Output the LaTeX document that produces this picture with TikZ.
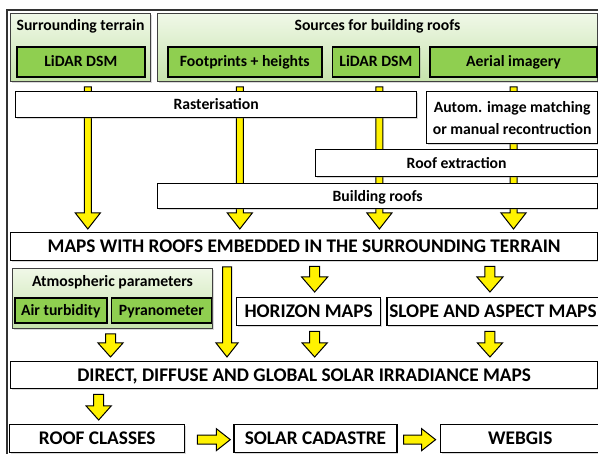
\documentclass[tikz,border=0pt]{standalone}
\usepackage{fontspec}
\setmainfont{Carlito}
\usetikzlibrary{positioning,calc,shadows,backgrounds}
\definecolor{leaf}{HTML}{8FCF50}
\definecolor{paleTop}{HTML}{F0F8E8}
\definecolor{paleBot}{HTML}{C6E3AB}

\begin{document}
\begin{tikzpicture}[x=1pt,y=-1pt,
    every node/.style={font=\bfseries\fontsize{15.7}{19}\selectfont,inner sep=0pt},
    shadowed/.style={drop shadow={shadow xshift=1.5pt,shadow yshift=-1.5pt,opacity=.3}},
    group/.style={draw=black!75,line width=1pt,top color=paleTop,bottom color=paleBot,anchor=north west,shadowed},
    source/.style={draw,line width=1.6pt,fill=leaf,anchor=north west,minimum height=30pt,text height=9.9pt,text depth=0pt,shadowed},
    box/.style={draw,line width=1.3pt,fill=white,anchor=north west,shadowed},
    stage/.style={box,text height=9.9pt,text depth=0pt},
    product/.style={stage,font=\bfseries\fontsize{19.3}{22}\selectfont,text height=12.2pt,minimum height=28pt},
    flow/.style={draw=black,fill=yellow,line width=1pt},
    downflow/.style n args={3}{flow,to path={let \p1=(\tikztostart),\p2=(\tikztotarget) in
      (\x1-#1,\y1) -- (\x1-#1,\y2+#3) -- (\x1-#2,\y2+#3) -- (\x1,\y2) -- (\x1+#2,\y2+#3) -- (\x1+#1,\y2+#3) -- (\x1+#1,\y1) -- cycle}},
    rightflow/.style n args={3}{flow,to path={let \p1=(\tikztostart),\p2=(\tikztotarget) in
      (\x1,\y1-#1) -- (\x2-#3,\y1-#1) -- (\x2-#3,\y1-#2) -- (\x2,\y1) -- (\x2-#3,\y1+#2) -- (\x2-#3,\y1+#1) -- (\x1,\y1+#1) -- cycle}}]
  \useasboundingbox (0,0) rectangle (598,454);
  \clip (0,0) rectangle (598,454);
  \draw[black!80,line width=1.5pt] (7,10) rectangle (604,460);

  \node[group,minimum width=140pt,minimum height=68pt] (terrain) at (10,13) {};
  \node[anchor=base] (terrainTitle) at ([yshift=-17.5pt]terrain.north) {Surrounding terrain};
  \node[source,minimum width=128pt] (lidarA) at (16,46) {LiDAR DSM};

  \node[group,minimum width=440pt,minimum height=68pt] (sources) at (157,13) {};
  \node[anchor=base] (sourcesTitle) at ([yshift=-17.5pt]sources.north) {Sources for building roofs};
  \node[source,minimum width=154pt] (foot) at (167,46) {Footprints + heights};
  \node[source,minimum width=87pt,right=9pt of foot] (lidarB) {LiDAR DSM};
  \node[source,minimum width=167pt,right=9pt of lidarB] (aerial) {Aerial imagery};

  \node[stage,minimum width=401pt,minimum height=26pt] (raster) at (15,91) {Rasterisation};
  \node[box,minimum width=171pt,minimum height=52pt,align=center,font=\bfseries\fontsize{15.7}{22}\selectfont] (matching) at (426,91) {Autom. image matching\\or manual recontruction};
  \node[stage,minimum width=282pt,minimum height=27pt] (roofext) at (315,149) {Roof extraction};
  \node[stage,minimum width=440pt,minimum height=25pt] (roofs) at (157,183) {Building roofs};

  \node[product,minimum width=587pt] (maps) at (10,232) {MAPS WITH ROOFS EMBEDDED IN THE SURROUNDING TERRAIN};

  \node[group,minimum width=200pt,minimum height=60pt] (atmos) at (12,268) {};
  \node[anchor=base] (atmosTitle) at ([yshift=-18.5pt]atmos.north) {Atmospheric parameters};
  \node[source,minimum width=92pt,minimum height=25pt] (turb) at (14,297) {Air turbidity};
  \node[source,minimum width=100pt,minimum height=25pt,right=3pt of turb] (pyra) {Pyranometer};

  \node[product,minimum width=144pt] (horizon) at (236,297) {HORIZON MAPS};
  \node[product,minimum width=212pt,right=5pt of horizon] (slope) {SLOPE AND ASPECT MAPS};

  \node[product,minimum width=587pt,minimum height=27pt] (irr) at (10,361) {DIRECT, DIFFUSE AND GLOBAL SOLAR IRRADIANCE MAPS};

  \node[product,minimum width=175pt] (classes) at (9,424) {ROOF CLASSES};
  \node[product,minimum width=163pt,right=48pt of classes] (cadastre) {SOLAR CADASTRE};
  \node[product,minimum width=160pt,right=42pt of cadastre] (webgis) {WEBGIS};

  \begin{pgfonlayer}{background}
    \foreach \src/\dx in {lidarA/7,foot/-5,lidarB/3.5,aerial/0}
      \draw[downflow={3.5pt}{12.5pt}{16pt}] ($(\src.south |- sources.south)+(\dx,5)$) to ($(\src.south |- maps.north)+(\dx,-3)$);
    \foreach \dst/\dx in {horizon/6,slope/-3}
      \draw[downflow={5pt}{13pt}{15pt}] ($(\dst.north |- maps.south)+(\dx,5)$) to ($(\dst.north)+(\dx,-5)$);
    \draw[downflow={4.5pt}{11pt}{14pt}] ($(atmos.north east)+(14,-1)$) to ($(atmos.east |- irr.north)+(14,-4)$);
    \foreach \src/\dx in {atmos/-2,horizon/6,slope/-3}
      \draw[downflow={5pt}{12.5pt}{14pt}] ($(\src.south)+(\dx,5)$) to ($(\src.south |- irr.north)+(\dx,-4)$);
    \draw[downflow={5pt}{12.5pt}{14pt}] ($(classes.north |- irr.south)+(1.5,5)$) to ($(classes.north)+(1.5,-4)$);
    \draw[rightflow={4.5pt}{11pt}{14pt}] ($(classes.east)+(12,1)$) to ($(cadastre.west)+(-3,1)$);
    \draw[rightflow={4.5pt}{11pt}{14pt}] ($(cadastre.east)+(6,1)$) to ($(webgis.west)+(-4,1)$);
  \end{pgfonlayer}
\end{tikzpicture}
\end{document}
